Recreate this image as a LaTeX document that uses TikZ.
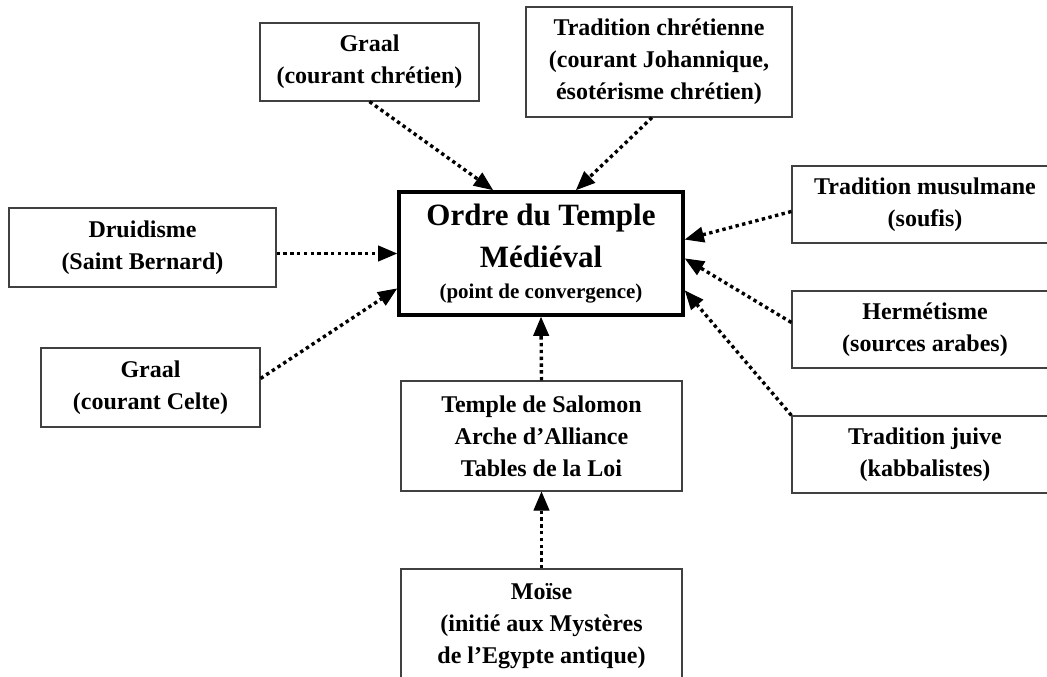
\documentclass[tikz,border=0pt]{standalone}
\usepackage{fontspec}
\setmainfont{Liberation Serif}
\usetikzlibrary{arrows.meta}
\tikzset{
  boite/.style = {draw = black!75, line width = 1.2pt, fill = white, align = flush center, inner sep = 0pt, font = \bfseries\fontsize{24}{32}\selectfont},
  centre/.style = {draw = black, line width = 3.8pt, fill = white, align = flush center, inner sep = 0pt, font = \bfseries},
  fleche/.style = {line width = 3.4pt, dash pattern = on 3.4pt off 3.4pt, -{Triangle[length = 19pt, width = 16pt, line width = 1pt]}}
}
\begin{document}
\begin{tikzpicture}[x = 1pt, y = -1pt]
\clip (0,0) rectangle (1047,677);
\fill[white] (0,0) rectangle (1047,677);
\node[centre, minimum width = 284pt, minimum height = 123pt, text width = 280pt] (ordre) at (541,253.5) {{\fontsize{31}{42}\selectfont Ordre du Temple\\Médiéval\par}{\fontsize{21}{31}\selectfont (point de convergence)\par}};
\node[boite, minimum width = 219pt, minimum height = 78pt, text width = 210pt] (graalchr) at (369.5,62) {Graal\\(courant chrétien)};
\node[boite, minimum width = 266pt, minimum height = 110pt, text width = 256pt] (tradchr) at (659,62) {Tradition chrétienne\\(courant Johannique,\\ésotérisme chrétien)};
\node[boite, minimum width = 267pt, minimum height = 79pt, text width = 257pt] (druid) at (142.5,247.5) {Druidisme\\(Saint Bernard)};
\node[boite, minimum width = 219pt, minimum height = 79pt, text width = 210pt] (graalcelte) at (150.5,387.5) {Graal\\(courant Celte)};
\node[boite, minimum width = 266pt, minimum height = 77pt, text width = 256pt] (musul) at (925,204.5) {Tradition musulmane\\(soufis)};
\node[boite, minimum width = 266pt, minimum height = 77pt, text width = 256pt] (herm) at (925,329.5) {Hermétisme\\(sources arabes)};
\node[boite, minimum width = 266pt, minimum height = 77pt, text width = 256pt] (juive) at (925,454.5) {Tradition juive\\(kabbalistes)};
\node[boite, minimum width = 281pt, minimum height = 110pt, text width = 271pt] (temple) at (541.5,436) {Temple de Salomon\\Arche d’Alliance\\Tables de la Loi};
\node[boite, minimum width = 281pt, minimum height = 114pt, text width = 271pt] (moise) at (541.5,626) {Moïse\\(initié aux Mystères\\de l’Egypte antique)};
\draw[fleche] (graalchr.south) -- ([xshift = -48pt]ordre.north);
\draw[fleche] ([xshift = -7pt]tradchr.south) -- ([xshift = 35pt]ordre.north);
\draw[fleche] ([yshift = -6pt]druid.east) -- (ordre.west);
\draw[fleche] ([yshift = 9pt]graalcelte.east) -- ([yshift = -35pt]ordre.west);
\draw[fleche] ([yshift = -7pt]musul.west) -- ([yshift = 14pt]ordre.east);
\draw[fleche] ([yshift = 7pt]herm.west) -- ([yshift = -5pt]ordre.east);
\draw[fleche] (juive.north west) -- ([yshift = -37pt]ordre.east);
\draw[fleche] (temple.north) -- (ordre.south);
\draw[fleche] (moise.north) -- (temple.south);
\end{tikzpicture}
\end{document}
